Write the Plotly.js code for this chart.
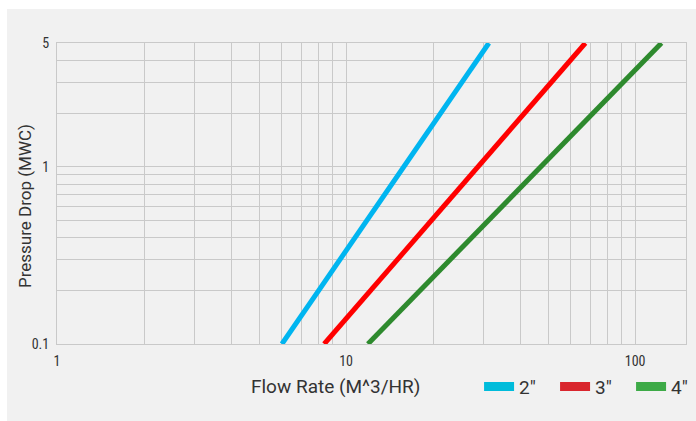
<!DOCTYPE html>
<html>
<head>
<meta charset="utf-8">
<script src="https://cdn.plot.ly/plotly-3.0.1.min.js"></script>
<style>
  html, body { margin: 0; padding: 0; background: #ffffff; }
  #chart { position: absolute; left: 7px; top: 9px; width: 689px; height: 412px; }
</style>
</head>
<body>
<div id="chart"></div>
<script>
// ---- data ----
var seriesNames = ['2\u2033', '3\u2033', '4\u2033'];
var lineColors = ['#00b5f0', '#ff0000', '#2e8a2e'];
var legendColors = ['#00bcdb', '#d9262d', '#3daa47'];

var flow2 = [6.0, 31.2];
var drop2 = [0.1, 5];
var flow3 = [8.4, 67.3];
var drop3 = [0.1, 5];
var flow4 = [11.9, 123.4];
var drop4 = [0.1, 5];

var xTickVals = [1, 2, 3, 4, 5, 6, 7, 8, 9, 10, 20, 30, 40, 50, 60, 70, 80, 90, 100];
var xTickText = ['1', '', '', '', '', '', '', '', '', '10', '', '', '', '', '', '', '', '', '100'];
var yTickVals = [0.1, 0.2, 0.3, 0.4, 0.5, 0.6, 0.7, 0.8, 0.9, 1, 2, 3, 4, 5];
var yTickText = ['0.1', '', '', '', '', '', '', '', '', '1', '', '', '', '5'];

var xTitle = 'Flow Rate (M^3/HR)';
var yTitle = 'Pressure Drop (MWC)';

var flows = [flow2, flow3, flow4];
var drops = [drop2, drop3, drop4];

var traces = [];
for (var i = 0; i < 3; i++) {
  traces.push({
    x: flows[i], y: drops[i], type: 'scatter', mode: 'lines',
    line: { color: lineColors[i], width: 5 },
    showlegend: false, hoverinfo: 'skip'
  });
}
for (var j = 0; j < 3; j++) {
  traces.push({
    x: [null], y: [null], type: 'scatter', mode: 'lines',
    name: seriesNames[j],
    line: { color: legendColors[j], width: 9 },
    showlegend: true
  });
}

var tickFont = { family: 'Liberation Sans Narrow, Roboto Condensed, Arial Narrow, sans-serif', size: 14, color: '#333333' };
var gridCol = '#c9c9c9';

var layout = {
  width: 689, height: 412,
  paper_bgcolor: '#f1f1f1', plot_bgcolor: '#f1f1f1',
  margin: { l: 50, r: 10, t: 34, b: 77, autoexpand: false },
  font: { family: 'Roboto, Liberation Sans, sans-serif', color: '#333333' },
  xaxis: {
    type: 'log', range: [0, Math.log10(150)],
    tickmode: 'array', tickvals: xTickVals, ticktext: xTickText,
    tickfont: tickFont, ticks: '', ticklabelstandoff: 4,
    showgrid: true, gridcolor: gridCol, gridwidth: 1,
    showline: true, linecolor: gridCol, linewidth: 1, mirror: true,
    zeroline: false, automargin: false
  },
  yaxis: {
    type: 'log', range: [-1, Math.log10(5)],
    tickmode: 'array', tickvals: yTickVals, ticktext: yTickText,
    tickfont: tickFont, ticks: '', ticklabelstandoff: 4,
    showgrid: true, gridcolor: gridCol, gridwidth: 1,
    showline: true, linecolor: gridCol, linewidth: 1, mirror: true,
    zeroline: false, automargin: false
  },
  showlegend: true,
  legend: {
    orientation: 'h', x: 0.671, xanchor: 'left', y: -0.142, yanchor: 'middle',
    bgcolor: 'rgba(0,0,0,0)', font: { size: 19, color: '#333333' },
    entrywidth: 31, entrywidthmode: 'pixels',
    itemclick: false, itemdoubleclick: false, traceorder: 'normal'
  },
  annotations: [{
    text: xTitle, xref: 'paper', yref: 'paper', x: 0.4435, y: -0.142,
    xanchor: 'center', yanchor: 'middle', showarrow: false,
    font: { size: 19, color: '#333333' }
  }, {
    text: yTitle, xref: 'paper', yref: 'paper', x: -0.0517, y: 0.46,
    xanchor: 'center', yanchor: 'middle', showarrow: false, textangle: -90,
    font: { size: 17, color: '#333333' }
  }]
};

Plotly.newPlot('chart', traces, layout, { staticPlot: true, displayModeBar: false });
</script>
</body>
</html>
